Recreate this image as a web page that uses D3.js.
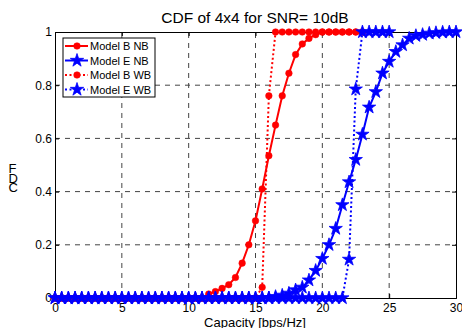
<!DOCTYPE html>
<html><head><meta charset="utf-8">
<script src="https://cdn.jsdelivr.net/npm/d3@7/dist/d3.min.js"></script>
<style>body{margin:0;background:#fff}svg{display:block}text{font-family:"Liberation Sans",Arial,sans-serif}</style>
</head><body><svg id="c" width="462" height="328"></svg>
<script>
const capacity = [0,0.5,1,1.5,2,2.5,3,3.5,4,4.5,5,5.5,6,6.5,7,7.5,8,8.5,9,9.5,10,10.5,11,11.5,12,12.5,13,13.5,14,14.5,15,15.5,16,16.5,17,17.5,18,18.5,19,19.5,20,20.5,21,21.5,22,22.5,23,23.5,24,24.5,25,25.5,26,26.5,27,27.5,28,28.5,29,29.5,30];
const modelBNB = [0,0,0,0,0,0,0,0,0,0,0,0,0,0,0,0,0,0,0,0,0,0,0,0.015,0.024,0.036,0.05,0.077,0.131,0.20,0.29,0.41,0.535,0.65,0.76,0.845,0.915,0.955,0.976,0.99,1,1,1,1,1,1,1];
const modelENB = [0,0,0,0,0,0,0,0,0,0,0,0,0,0,0,0,0,0,0,0,0,0,0,0,0,0,0,0,0,0,0,0,0,0.005,0.01,0.0175,0.03,0.04,0.067,0.103,0.148,0.2,0.261,0.35,0.436,0.52,0.615,0.717,0.775,0.845,0.889,0.926,0.951,0.976,0.986,0.99,0.995,0.997,0.999,1,1];
const modelBWB = [0,0,0,0,0,0,0,0,0,0,0,0,0,0,0,0,0,0,0,0,0,0,0,0,0,0,0,0,0,0,0,0.04,0.76,1,1,1,1,1,1,1,1,1,1,1,1,1,1];
const modelEWB = [0,0,0,0,0,0,0,0,0,0,0,0,0,0,0,0,0,0,0,0,0,0,0,0,0,0,0,0,0,0,0,0,0,0,0,0,0,0,0,0,0,0,0,0,0.145,0.785,1,1,1,1,1];
const xTicks = [0,5,10,15,20,25,30];
const yTicks = [0,0.2,0.4,0.6,0.8,1];
const seriesNames = ["Model B NB","Model E NB","Model B WB","Model E WB"];
const titleText = "CDF of 4x4 for SNR= 10dB";
const xLabel = "Capacity [bps/Hz]";
const yLabel = "CDF";

const svg = d3.select("#c");
const L=55, R=456, T=32, B=298;
const x = d3.scaleLinear().domain([0,30]).range([L,R]);
const y = d3.scaleLinear().domain([0,1]).range([B,T]);

// grid
const g = svg.append("g");
g.selectAll(".gx").data(xTicks.slice(1,-1)).enter().append("line")
  .attr("x1",d=>x(d)).attr("x2",d=>x(d)).attr("y1",B).attr("y2",T)
  .attr("stroke","#444").attr("stroke-width",1).attr("stroke-dasharray","5,5");
g.selectAll(".gy").data(yTicks.slice(1,-1)).enter().append("line")
  .attr("y1",d=>y(d)).attr("y2",d=>y(d)).attr("x1",L).attr("x2",R)
  .attr("stroke","#444").attr("stroke-width",1).attr("stroke-dasharray","5,5");

// axes
const ax = d3.axisBottom(x).tickValues(xTicks).tickSize(-4).tickPadding(5).tickFormat(d3.format("d"));
const ay = d3.axisLeft(y).tickValues(yTicks).tickSize(-4).tickPadding(3).tickFormat(d=>d===0?"0":d===1?"1":d3.format(".1f")(d));
const axT = d3.axisTop(x).tickValues(xTicks).tickSize(-4).tickFormat("");
const ayR = d3.axisRight(y).tickValues(yTicks).tickSize(-4).tickFormat("");
function style(sel){sel.select(".domain").attr("stroke","#000");sel.selectAll(".tick line").attr("stroke","#000");sel.selectAll("text").attr("font-size",12).attr("fill","#000").style("font-family","'Liberation Sans',Arial,sans-serif");}
svg.append("g").attr("transform",`translate(0,${B})`).call(ax).call(style);
svg.append("g").attr("transform",`translate(${L},0)`).call(ay).call(style);
svg.append("g").attr("transform",`translate(0,${T})`).call(axT).call(style);
svg.append("g").attr("transform",`translate(${R},0)`).call(ayR).call(style);

// series
const series = [
  {name:seriesNames[0], vals:modelBNB, color:"#ff0000", dash:null, sym:"circle"},
  {name:seriesNames[1], vals:modelENB, color:"#0000ff", dash:null, sym:"star"},
  {name:seriesNames[2], vals:modelBWB, color:"#ff0000", dash:"2,2.5", sym:"circle"},
  {name:seriesNames[3], vals:modelEWB, color:"#0000ff", dash:"2,2.5", sym:"star"}
];
const line = d3.line().x(d=>x(d[0])).y(d=>y(d[1]));
const starSym = d3.symbol().type(d3.symbolStar).size(55);
function marker(sel, s){
  if(s.sym==="circle"){
    sel.append("circle").attr("r",3.3).attr("fill",s.color).attr("stroke",s.color).attr("stroke-width",0.5);
  } else {
    sel.append("path").attr("d",starSym()).attr("fill",s.color).attr("stroke",s.color).attr("stroke-width",0.8);
  }
}
series.forEach(s=>{
  const pts = s.vals.map((v,i)=>[capacity[i],v]);
  svg.append("path").datum(pts).attr("d",line).attr("fill","none")
    .attr("stroke",s.color).attr("stroke-width",2).attr("stroke-dasharray",s.dash);
  pts.forEach(p=>{
    const m = svg.append("g").attr("transform",`translate(${x(p[0])},${y(p[1])})`);
    marker(m,s);
  });
});

// legend
const lg = svg.append("g");
lg.append("rect").attr("x",63).attr("y",38).attr("width",92).attr("height",59).attr("fill","#fff").attr("stroke","#000").attr("stroke-width",1);
series.forEach((s,i)=>{
  const yy = 46 + i*14.5;
  lg.append("line").attr("x1",65).attr("x2",88).attr("y1",yy).attr("y2",yy)
    .attr("stroke",s.color).attr("stroke-width",2).attr("stroke-dasharray",s.dash);
  const m = lg.append("g").attr("transform",`translate(77,${yy})`);
  marker(m,s);
  lg.append("text").attr("x",90).attr("y",yy+4).attr("font-size",11).attr("fill","#000").text(s.name);
});

// title & labels
svg.append("text").attr("x",255).attr("y",23).attr("text-anchor","middle").attr("font-size",15.5).attr("fill","#000").text(titleText);
svg.append("text").attr("x",255).attr("y",326.5).attr("text-anchor","middle").attr("font-size",13).attr("fill","#000").text(xLabel);
// y label: rotated baseline with upright glyphs (as in the reference)
svg.append("text").attr("transform","translate(8.5,192) rotate(-90)")
  .attr("rotate","90").attr("font-size",13).attr("fill","#000").text(yLabel);
</script></body></html>
